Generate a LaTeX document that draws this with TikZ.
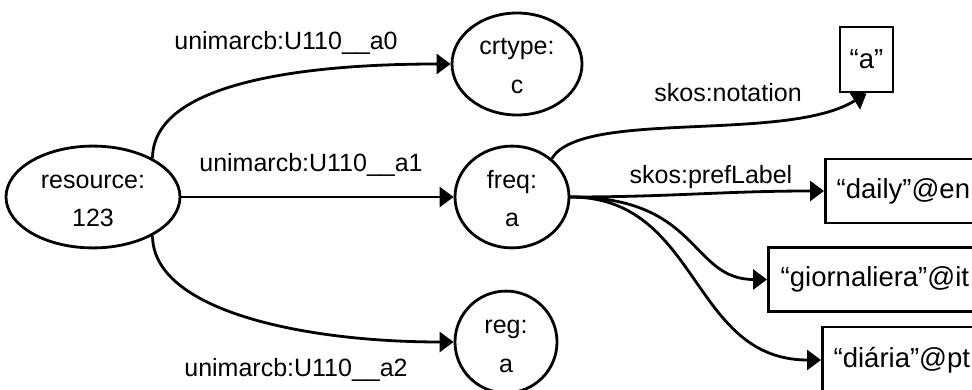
\documentclass[tikz,border=0pt]{standalone}
\usepackage{fontspec}
\setmainfont{Liberation Sans}
\usetikzlibrary{arrows.meta,shapes.geometric}
% strut that keeps both lines of a resource label at the same depth
\newcommand\lnstrut{\rule[-6pt]{0pt}{33pt}}
\begin{document}
\begin{tikzpicture}[x=1pt,y=-1pt,
  line width=2.8pt,
  res/.style={ellipse,draw,inner sep=0pt,align=center,
    font=\fontsize{25}{39}\selectfont},
  lit/.style={rectangle,draw,inner sep=0pt,anchor=west,minimum height=64pt,
    font=\fontsize{27.5}{33}\selectfont},
  prop/.style={inner sep=0pt,font=\fontsize{25}{30}\selectfont},
  arc/.style={-{Triangle[length=14pt,width=20pt]}}]
\useasboundingbox (0,0) rectangle (972,390);

% resources
\node[res,minimum width=174pt,minimum height=98pt] (res) at (93,197) {\lnstrut resource:\\\lnstrut 123};
\node[res,minimum width=130pt,minimum height=102pt] (crt) at (517,64) {\lnstrut crtype:\\\lnstrut c};
\node[res,minimum width=114pt,minimum height=98pt] (frq) at (512,197) {\lnstrut freq:\\\lnstrut a};
\node[res,minimum width=102pt,minimum height=100pt] (reg) at (506,342) {\lnstrut reg:\\\lnstrut a};

% literals
\node[rectangle,draw,inner sep=0pt,minimum width=53pt,minimum height=65pt,
  font=\fontsize{27.5}{33}\selectfont] (abox) at (866.5,59.5) {“a”};
\node[lit,minimum width=156pt] (daily) at (824,191) {“daily”@en};
\node[lit,minimum width=213pt] (giorn) at (767,279.5) {“giornaliera”@it};
\node[lit,minimum width=159pt,minimum height=66pt] (diaria) at (821,360) {“diária”@pt};

% property labels
\node[prop] (l0) at (286,43) {unimarcb:U110\_\_a0};
\node[prop] (l1) at (311,165) {unimarcb:U110\_\_a1};
\node[prop] (l2) at (296,370) {unimarcb:U110\_\_a2};
\node[prop] (lnot) at (728,93) {skos:notation};
\node[prop] (lpref) at (711,177) {skos:prefLabel};

% statements
\draw[arc] (res.33) .. controls +(0,-75) and +(-150,0) .. (crt.west);
\draw[arc] (res.east) -- (frq.west);
\draw[arc] (res.-33) .. controls +(0,75) and +(-150,0) .. (reg.west);
\draw[arc] (frq.44) .. controls +(30,-50) and +(-80,50) .. (abox.south);
\draw[arc] (frq.east) .. controls +(100,0) and +(-100,0) .. (daily.west);
\draw[arc] (frq.east) .. controls +(130,0) and +(-77,0) .. (giorn.west);
\draw[arc] (frq.east) .. controls +(130,0) and +(-131,0) .. (diaria.west);
\end{tikzpicture}
\end{document}
